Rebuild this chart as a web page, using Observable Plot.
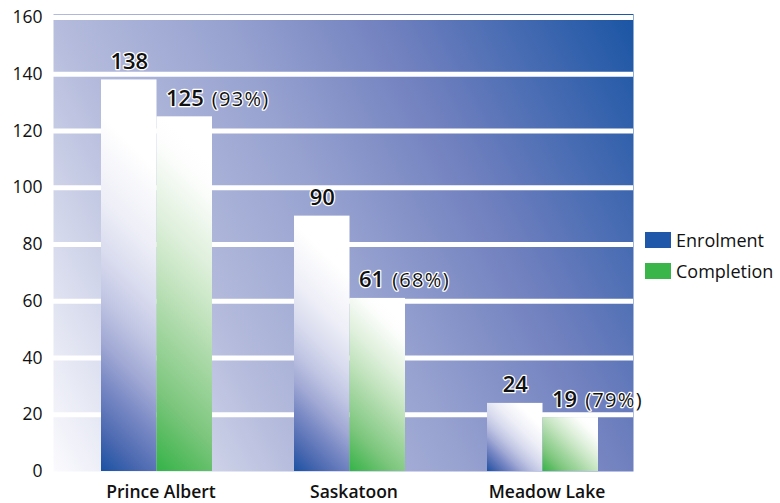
<!DOCTYPE html>
<html><head><meta charset="utf-8">
<script src="https://cdn.jsdelivr.net/npm/d3@7"></script>
<script src="https://cdn.jsdelivr.net/npm/@observablehq/plot@0.6"></script>
<style>
html,body{margin:0;padding:0;background:#fff;}
#wrap{position:relative;width:780px;height:503px;font-family:"Open Sans",sans-serif;}
#legend{position:absolute;left:645px;top:232px;}
.item{display:flex;align-items:center;height:16px;margin-bottom:14.5px;font-size:18px;font-weight:500;color:#111;white-space:nowrap;}
.sw{width:26px;height:16px;margin-right:5px;flex:none;}
</style></head><body><div id="wrap"></div>
<script>
const sites = ["Prince Albert", "Saskatoon", "Meadow Lake"];
const enrolment = [138, 90, 24];
const completion = [125, 61, 19];
const completionPct = [93, 68, 79];
const yTicks = [0, 20, 40, 60, 80, 100, 120, 140, 160];
const seriesNames = ["Enrolment", "Completion"];
const seriesColors = ["#1f58a8", "#39b54a"];

const rows = sites.map((site, i) => ({site, enrolment: enrolment[i], completion: completion[i], pct: completionPct[i]}));

const plot = Plot.plot({
  width: 780, height: 503,
  marginLeft: 53, marginRight: 147, marginTop: 17, marginBottom: 32,
  style: {fontFamily: '"Open Sans", sans-serif', color: "#111", background: "transparent", overflow: "visible"},
  x: {domain: sites, paddingInner: 0.425, paddingOuter: 0.215, align: 0.58, label: null},
  y: {domain: [0, 160], label: null},
  marks: [
    Plot.frame({fill: "url(#bgGrad)", stroke: null, insetTop: -3.5}),
    Plot.ruleY(yTicks.filter(d => d > 0), {stroke: "#fff", strokeWidth: 5}),
    Plot.barY(rows, {x: "site", y: "enrolment", fill: seriesColors[0], insetRight: 55.5}),
    Plot.barY(rows, {x: "site", y: "completion", fill: seriesColors[1], insetLeft: 55.5}),
    Plot.text(rows, {x: "site", y: "enrolment", text: d => String(d.enrolment), dx: -27.75, dy: -11,
      lineAnchor: "bottom", textAnchor: "middle", fontSize: 22, fontWeight: 600, fill: "#111", stroke: "#fff", strokeWidth: 2.5}),
    Plot.text(rows, {x: "site", y: "completion", text: d => `${d.completion}|(${d.pct}%)`, dx: 9, dy: -11,
      lineAnchor: "bottom", textAnchor: "start", fontSize: 22, fontWeight: 600, fill: "#111", stroke: "#fff", strokeWidth: 2.5}),
    Plot.axisY(yTicks, {tickSize: 0, tickPadding: 11, fontSize: 17.5, fontWeight: 500, fill: "#111"}),
    Plot.axisX({tickSize: 0, tickPadding: 14.5, fontSize: 17.5, fontWeight: 600, dx: 4, fill: "#111"})
  ]
});

// gradient definitions
const ns = "http://www.w3.org/2000/svg";
const defs = document.createElementNS(ns, "defs");
function grad(id, units, x1, y1, x2, y2, stops) {
  const g = document.createElementNS(ns, "linearGradient");
  g.setAttribute("id", id);
  g.setAttribute("gradientUnits", units);
  g.setAttribute("x1", x1); g.setAttribute("y1", y1);
  g.setAttribute("x2", x2); g.setAttribute("y2", y2);
  for (const [o, c] of stops) {
    const s = document.createElementNS(ns, "stop");
    s.setAttribute("offset", o); s.setAttribute("stop-color", c);
    g.appendChild(s);
  }
  defs.appendChild(g);
}
grad("bgGrad", "objectBoundingBox", 0, 1, 1.207, 0.483,
  [[0, "#fbfbfe"], [0.3, "#b4bbdc"], [0.5, "#97a2d0"], [0.7, "#7080bf"], [1, "#1a55a4"]]);
const barStops = [
  [[0, "#1a52a3"], [0.09, "#4a68b0"], [0.2, "#7888c4"], [0.29, "#a0a8d4"], [0.39, "#c0c5e3"], [0.49, "#d8dbee"], [0.62, "#eeeff7"], [0.8, "#ffffff"]],
  [[0, "#33b348"], [0.09, "#55bb5e"], [0.2, "#7cc67d"], [0.29, "#92cf91"], [0.39, "#aad9a7"], [0.49, "#c2e3be"], [0.63, "#dff0dc"], [0.8, "#fbfdfb"], [0.88, "#ffffff"]]
];
// per-bar diagonal gradient from the bottom-left corner
d3.select(plot).selectAll('g[aria-label="bar"]').each(function(_, s) {
  d3.select(this).selectAll("rect").each(function(_, i) {
    const x = +this.getAttribute("x"), y = +this.getAttribute("y");
    const w = +this.getAttribute("width"), h = +this.getAttribute("height");
    const L = (w + h) / 2;
    const id = `barGrad${s}_${i}`;
    grad(id, "userSpaceOnUse", x, y + h, x + L, y + h - L, barStops[s]);
    this.setAttribute("fill", `url(#${id})`);
  });
});
plot.insertBefore(defs, plot.firstChild);

// split completion labels into value + percentage
d3.select(plot).selectAll("text").each(function() {
  if (!this.textContent.includes("|")) return;
  const [num, pct] = this.textContent.split("|");
  this.textContent = num;
  d3.select(this).append("tspan").attr("dx", 8).attr("font-size", 20).attr("font-weight", 500).attr("letter-spacing", 1.3).text(pct);
});

const wrap = document.getElementById("wrap");
wrap.appendChild(plot);
const legend = document.createElement("div");
legend.id = "legend";
seriesNames.forEach((name, i) => {
  const item = document.createElement("div");
  item.className = "item";
  const sw = document.createElement("span");
  sw.className = "sw";
  sw.style.background = seriesColors[i];
  const label = document.createElement("span");
  label.textContent = name;
  item.appendChild(sw); item.appendChild(label);
  legend.appendChild(item);
});
wrap.appendChild(legend);
</script></body></html>
